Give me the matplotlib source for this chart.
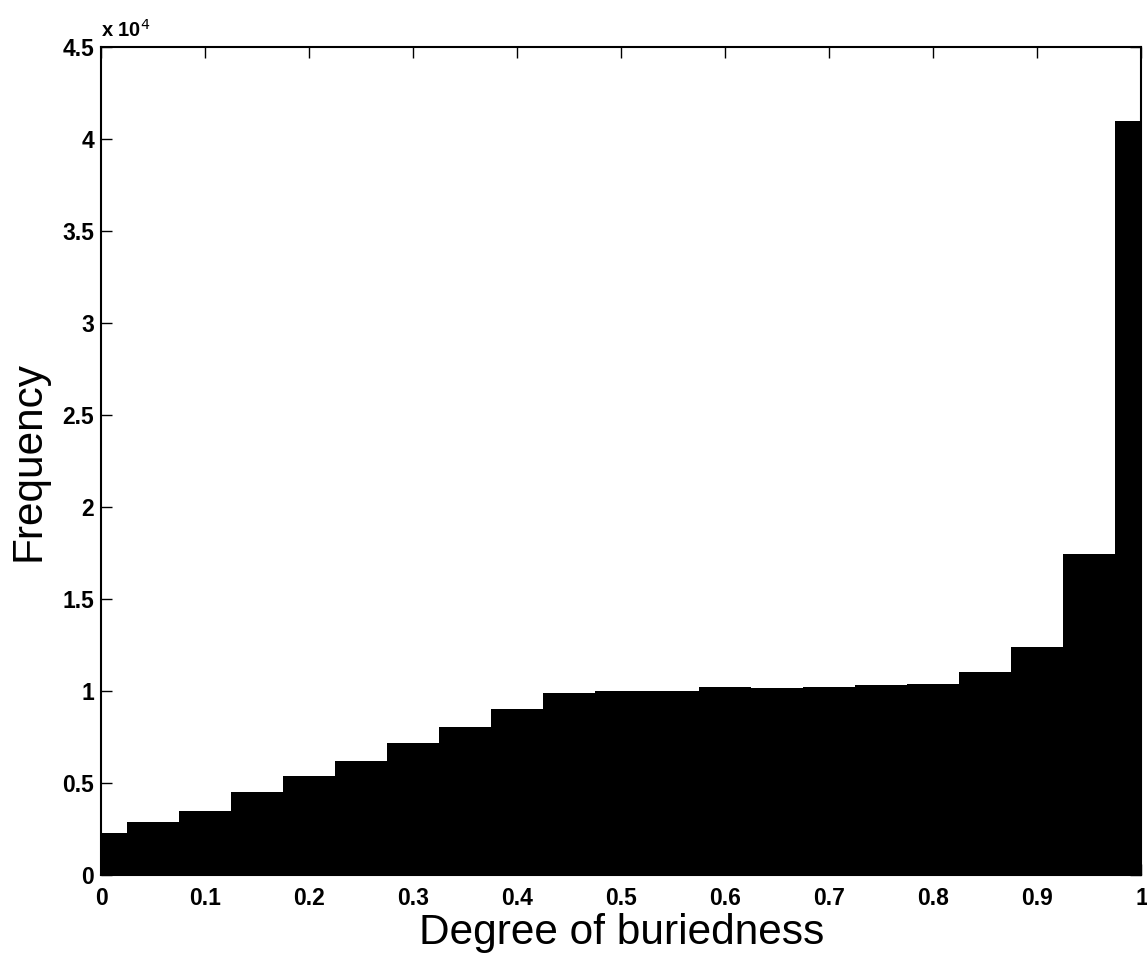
import numpy as np
import matplotlib.pyplot as plt

plt.rcParams['font.family'] = ['Liberation Sans', 'DejaVu Sans']

# histogram bin centres (degree of buriedness) and counts
centres = [0.0, 0.05, 0.1, 0.15, 0.2, 0.25, 0.3, 0.35, 0.4, 0.45, 0.5,
           0.55, 0.6, 0.65, 0.7, 0.75, 0.8, 0.85, 0.9, 0.95, 1.0]
counts = [2300, 2900, 3490, 4530, 5380, 6180, 7190, 8060, 9020, 9875, 10020,
          9980, 10200, 10150, 10200, 10330, 10380, 11050, 12380, 17430, 41000]

xticks = [0, 0.1, 0.2, 0.3, 0.4, 0.5, 0.6, 0.7, 0.8, 0.9, 1]
yticks = [0, 5000, 10000, 15000, 20000, 25000, 30000, 35000, 40000, 45000]

# bins are centred on the values and clipped to [0, 1], like matlab hist
c = np.array(centres)
edges = np.clip(np.concatenate([[c[0] - 0.025], c + 0.025]), 0, 1)

fig = plt.figure(figsize=(11.47, 9.57), dpi=100)
ax = fig.add_axes([0.0881, 0.0857, 0.9070, 0.8652])

ax.stairs(counts, edges, fill=True, color='black')

ax.set_xlim(0, 1)
ax.set_ylim(0, 45000)
ax.set_xticks(xticks)
ax.set_xticklabels(['%g' % t for t in xticks])
ax.set_yticks(yticks)
ax.set_yticklabels(['%g' % (t / 1e4) for t in yticks])

ax.tick_params(direction='in', length=8, width=1.0, top=True, right=True,
               labelsize=16.5)
ax.tick_params(axis='x', pad=9)
ax.tick_params(axis='y', pad=5)
for lab in ax.get_xticklabels() + ax.get_yticklabels():
    lab.set_fontweight('bold')
for s in ax.spines.values():
    s.set_linewidth(1.5)

ax.text(0.0, 1.008, r'x 10$^{4}$', transform=ax.transAxes, fontsize=14.5,
        fontweight='bold', ha='left', va='bottom')

ax.set_xlabel('Degree of buriedness', fontsize=30.5, labelpad=2)
ax.set_ylabel('Frequency', fontsize=30.5, labelpad=10)

fig.savefig('out.png', dpi=100)
